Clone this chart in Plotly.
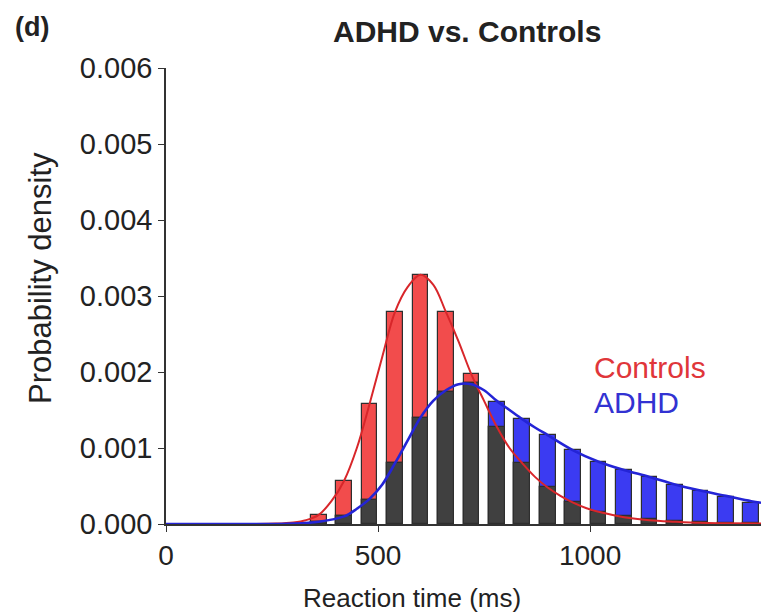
import plotly.graph_objects as go

# Histogram bins (bin centres, ms) and densities for each group
bin_centers = [360, 420, 480, 540, 600, 660, 720, 780, 840, 900,
               960, 1020, 1080, 1140, 1200, 1260, 1320, 1380]
controls_density = [0.00012, 0.00057, 0.00158, 0.00279, 0.00327, 0.00279,
                    0.00197, 0.00128, 0.00080, 0.00049, 0.00029, 0.00016,
                    0.00010, 0.00006, 0.00004, 0.00002, 0.00001, 0.00001]
adhd_density = [0.00002, 0.00010, 0.00032, 0.00080, 0.00140, 0.00174,
                0.00185, 0.00160, 0.00138, 0.00117, 0.00097, 0.00081,
                0.00071, 0.00062, 0.00051, 0.00043, 0.00036, 0.00028]

# Fitted density curves
controls_fit_x = [0, 200, 260, 300, 330, 360, 390, 420, 450, 480, 510, 540,
                  570, 600, 630, 660, 690, 720, 750, 780, 810, 840, 870, 900,
                  930, 960, 990, 1020, 1080, 1140, 1200, 1260, 1320, 1403]
controls_fit_y = [0, 0, 0.000005, 0.00002, 0.00005, 0.00012, 0.00030, 0.00057,
                  0.00100, 0.00158, 0.00220, 0.00279, 0.00312, 0.00328,
                  0.00315, 0.00279, 0.00240, 0.00197, 0.00162, 0.00128,
                  0.00100, 0.00080, 0.00062, 0.00048, 0.00037, 0.00028,
                  0.00021, 0.00016, 0.00009, 0.00005, 0.00003, 0.000015,
                  0.00001, 0.000005]
adhd_fit_x = [0, 250, 300, 360, 420, 450, 480, 510, 540, 570, 600, 630, 660,
              690, 720, 750, 780, 810, 840, 870, 900, 960, 1020, 1080, 1140,
              1200, 1260, 1320, 1380, 1403]
adhd_fit_y = [0, 0, 0.000005, 0.00003, 0.00010, 0.00020, 0.00033, 0.00052,
              0.00080, 0.00110, 0.00140, 0.00162, 0.00176, 0.00184, 0.00184,
              0.00176, 0.00162, 0.00150, 0.00138, 0.00127, 0.00117, 0.00097,
              0.00082, 0.00071, 0.00062, 0.00052, 0.00044, 0.00037, 0.00030,
              0.00028]

y_ticks = [0, 0.001, 0.002, 0.003, 0.004, 0.005, 0.006]
x_ticks = [0, 500, 1000]

RED = "#f24c4c"
BLUE = "#3b3bf2"
DARK = "#404040"
EDGE = "#2e2e2e"
TEXT = "#222222"
BAR_W = 37
FONT = "Liberation Sans, Arial, Helvetica, sans-serif"

# Plot-area geometry in pixels
W, H = 761, 615
ML, MR, MT, MB = 166, 0, 68, 91
PW, PH = W - ML - MR, H - MT - MB

overlap = [min(c, a) for c, a in zip(controls_density, adhd_density)]

fig = go.Figure()
fig.add_trace(go.Bar(x=bin_centers, y=controls_density, width=BAR_W,
                     marker=dict(color=RED, line=dict(color=EDGE, width=1.2)),
                     showlegend=False))
fig.add_trace(go.Bar(x=bin_centers, y=adhd_density, width=BAR_W,
                     marker=dict(color=BLUE, line=dict(color=EDGE, width=1.2)),
                     showlegend=False))
fig.add_trace(go.Bar(x=bin_centers, y=overlap, width=BAR_W,
                     marker=dict(color=DARK, line=dict(color=EDGE, width=1.2)),
                     showlegend=False))
fig.add_trace(go.Scatter(x=controls_fit_x, y=controls_fit_y, mode="lines",
                         line=dict(color="#d8262a", width=2, shape="spline"),
                         showlegend=False, cliponaxis=False))
fig.add_trace(go.Scatter(x=adhd_fit_x, y=adhd_fit_y, mode="lines",
                         line=dict(color="#2424d6", width=2.6, shape="spline"),
                         showlegend=False, cliponaxis=False))


def px(xpix):
    """Pixel column -> paper x."""
    return (xpix - ML) / PW


def py(ypix):
    """Pixel row -> paper y."""
    return (H - MB - ypix) / PH


def label(text, xpix, ypix, size, color=TEXT, xanchor="center", angle=0):
    return dict(text=text, x=px(xpix), y=py(ypix), xref="paper", yref="paper",
                showarrow=False, xanchor=xanchor, yanchor="middle",
                textangle=angle, font=dict(size=size, color=color))


fig.update_layout(
    width=W, height=H,
    margin=dict(l=ML, r=MR, t=MT, b=MB),
    barmode="overlay", bargap=0,
    plot_bgcolor="white", paper_bgcolor="white",
    font=dict(family=FONT, color=TEXT),
    xaxis=dict(range=[0, 1403], tickvals=x_ticks, ticks="outside", ticklen=6,
               tickcolor="#333", showline=True, linecolor="#333", linewidth=1.5,
               showgrid=False, zeroline=False, tickfont=dict(size=28)),
    yaxis=dict(range=[0, 0.006], tickvals=y_ticks, tickformat=".3f",
               ticks="outside", ticklen=6, tickcolor="#333", showline=True,
               linecolor="#333", linewidth=1.5, showgrid=False, zeroline=False,
               tickfont=dict(size=29)),
    annotations=[
        label("<b>(d)</b>", 32, 27, 27),
        label("<b>ADHD vs. Controls</b>", 467, 32, 30),
        label("Reaction time (ms)", 412, 598, 26),
        label("Probability density", 40, 278, 31, angle=-90),
        label("Controls", 592, 367, 30, color="#e0363a", xanchor="left"),
        label("ADHD", 592, 402, 30, color="#3232d2", xanchor="left"),
    ],
)

fig.write_html("out.html")
